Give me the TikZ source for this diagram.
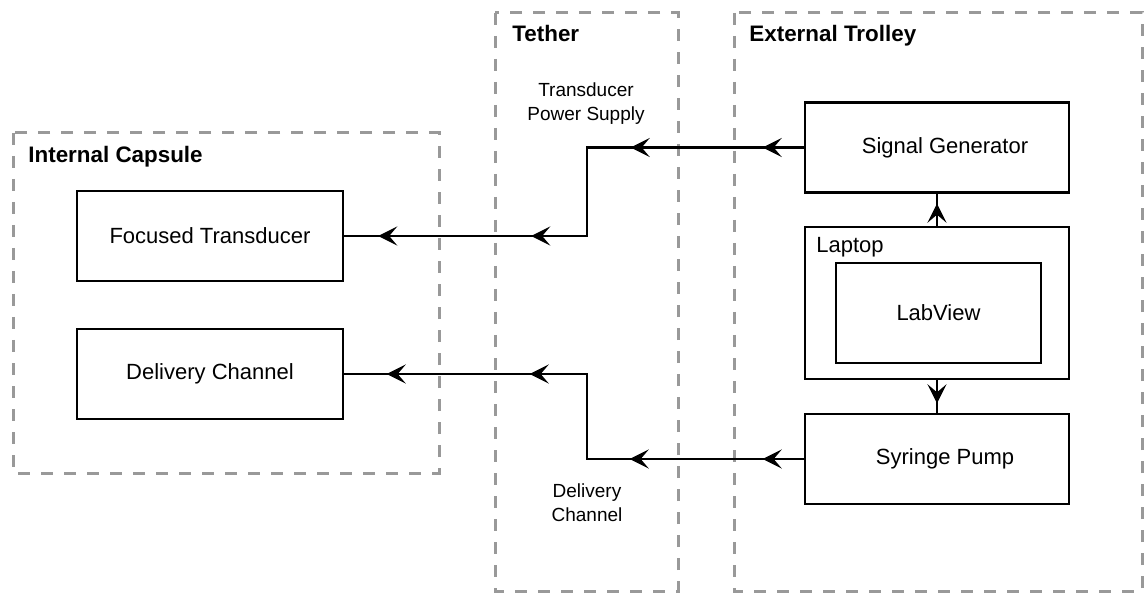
\documentclass[tikz,border=0pt]{standalone}
\usepackage{fontspec}
\setsansfont{Liberation Sans}
\usetikzlibrary{arrows.meta, positioning, decorations.markings}

\tikzset{
    flow/.tip={Stealth[length=9.5pt, width=9.5pt, inset=4pt]},
    group/.style={draw=black!40, line width=1.5pt, dash pattern=on 6pt off 5.5pt},
    grouptitle/.style={anchor=base west, inner sep=0pt, font=\sffamily\bfseries\fontsize{11.2}{13}\selectfont},
    block/.style={draw, line width=1.3pt, minimum width=133pt, minimum height=45pt,
        inner sep=0pt, font=\sffamily\fontsize{11}{13}\selectfont},
    link/.style={line width=1.1pt},
    tipat/.style={postaction={decorate, decoration={markings, mark=at position #1 with {\arrow{flow}}}}},
    linklabel/.style={align=center, inner sep=0pt, font=\sffamily\fontsize{9.5}{12}\selectfont}
}

\begin{document}
\begin{tikzpicture}[x=0.5pt, y=-0.5pt]
        \useasboundingbox (0,0) rectangle (1146,593);

        % Dashed groups
        \draw[group] (13,133) rectangle (439,473);
        \draw[group] (495,13) rectangle (678,591);
        \draw[group] (734,13) rectangle (1142,591);

        \node[grouptitle] (capsuletitle) at (28,163) {Internal Capsule};
        \node[grouptitle] (tethertitle) at (512,42) {Tether};
        \node[grouptitle] (trolleytitle) at (749,42) {External Trolley};

        % Capsule blocks
        \node[block] (transducer) at (210,236) {Focused Transducer};
        \node[block] (channel) at (210,374) {Delivery Channel};

        % Trolley blocks
        \node[block, minimum width=132pt] (generator) at (937,147.5) {\hspace*{8pt}Signal Generator};
        \node[block, minimum width=132pt, minimum height=76pt] (laptop) at (937,303) {};
        \node[block, line width=1pt, minimum width=102.5pt, minimum height=50pt] (labview) at (938.5,313) {LabView};
        \node[anchor=base west, inner sep=0pt, font=\sffamily\fontsize{11}{13}\selectfont]
            (laptoptitle) at (816,253) {Laptop};
        \node[block, minimum width=132pt] (pump) at (937,459) {\hspace*{8pt}Syringe Pump};

        % Bend points in the tether
        \coordinate (powerbend) at (587,190);
        \coordinate (fluidbend) at (587,420);

        % Connections
        \draw[link, tipat=20.5pt, tipat=86.5pt, tipat=180.5pt, tipat=257pt]
            (generator.west) -| (powerbend) |- (transducer.east);
        \draw[link, tipat=20.5pt, tipat=87pt, tipat=179.5pt, tipat=251pt]
            (pump.west) -| (fluidbend) |- (channel.east);
        \draw[link, tipat=11pt] (laptop.north) -- (generator.south);
        \draw[link, tipat=11.5pt] (laptop.south) -- (pump.north);

        % Tether labels
        \node[linklabel] (powerlabel) at (586,104) {Transducer\\Power Supply};
        \node[linklabel] (fluidlabel) at (587,503) {Delivery\\Channel};
    \end{tikzpicture}
\end{document}
